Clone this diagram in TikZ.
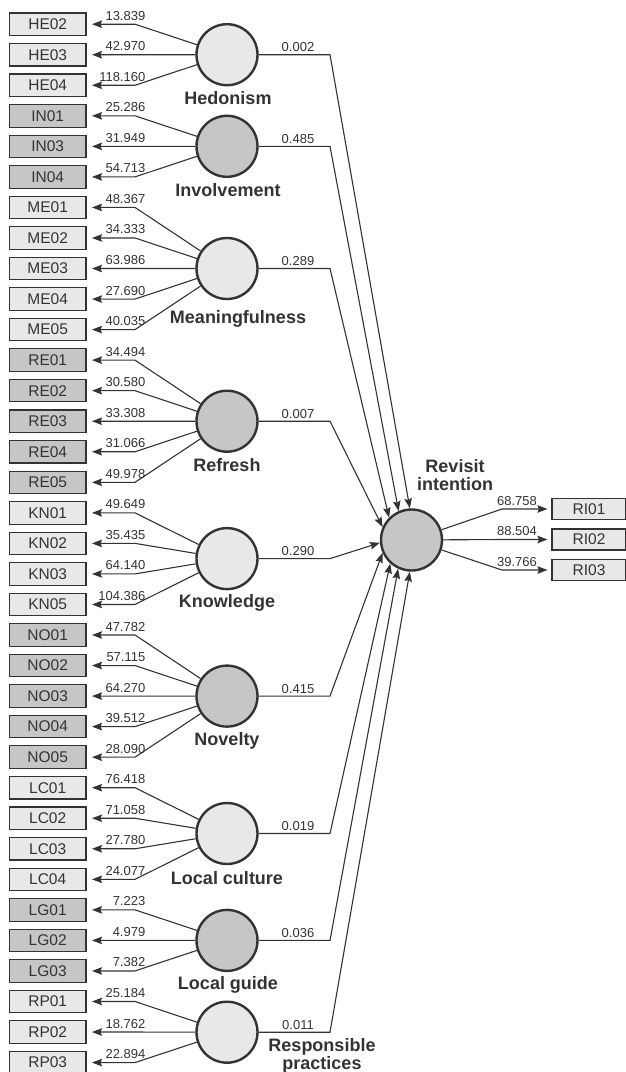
\documentclass[tikz,border=0pt]{standalone}
\usepackage{fontspec}
\setmainfont{Liberation Sans}
\usetikzlibrary{arrows.meta}
\definecolor{ink}{HTML}{333333}
\definecolor{lightfill}{HTML}{E8E8E8}
\definecolor{darkfill}{HTML}{C6C6C6}
\begin{document}
\begin{tikzpicture}[x=1pt,y=-1pt,
  ind/.style={draw=ink, line width=1.1pt, minimum width=76.5pt, minimum height=22.5pt, inner sep=0pt, font=\fontsize{15.5}{16}\selectfont, text=ink},
  indL/.style={ind, fill=lightfill},
  indD/.style={ind, fill=darkfill},
  lat/.style={circle, draw=ink, line width=2.4pt, minimum size=61pt, inner sep=0pt},
  latL/.style={lat, fill=lightfill},
  latD/.style={lat, fill=darkfill},
  conn/.style={draw=ink, line width=1.1pt, -{Stealth[length=10pt,width=7.5pt,inset=1.5pt]}},
  num/.style={font=\fontsize{13}{14}\selectfont, text=ink, inner sep=0pt},
  lbl/.style={font=\fontsize{18}{18}\selectfont\bfseries, text=ink, align=center, inner sep=0pt},
]
\useasboundingbox (0,0) rectangle (625,1072);

% indicator boxes
\foreach \t/\s [count=\i from 0] in {HE02/indL,HE03/indL,HE04/indL,IN01/indD,IN03/indD,IN04/indD,ME01/indL,ME02/indL,ME03/indL,ME04/indL,ME05/indL,RE01/indD,RE02/indD,RE03/indD,RE04/indD,RE05/indD,KN01/indL,KN02/indL,KN03/indL,KN05/indL,NO01/indD,NO02/indD,NO03/indD,NO04/indD,NO05/indD,LC01/indL,LC02/indL,LC03/indL,LC04/indL,LG01/indD,LG02/indD,LG03/indD,RP01/indL,RP02/indL,RP03/indL}
  \node[\s] (b\i) at (47.7,{24.2+30.54*\i}) {\t};

% latent variables
\node[latL] (he) at (227,54.7) {};
\node[latD] (in) at (227,146.3) {};
\node[latL] (me) at (227,268.5) {};
\node[latD] (re) at (227,421.2) {};
\node[latL] (kn) at (227,558.6) {};
\node[latD] (no) at (227,696.1) {};
\node[latL] (lc) at (227,833.5) {};
\node[latD] (lg) at (227,940.4) {};
\node[latL] (rp) at (227,1032.2) {};
\node[latD] (ri) at (411.5,540) {};

\node[lbl] (heL) at (228,98.5) {Hedonism};
\node[lbl] (inL) at (228,190) {Involvement};
\node[lbl] (meL) at (238,318.5) {Meaningfulness};
\node[lbl] (reL) at (227,465) {Refresh};
\node[lbl] (knL) at (227,603) {Knowledge};
\node[lbl] (noL) at (227,741) {Novelty};
\node[lbl] (lcL) at (227,878) {Local culture};
\node[lbl] (lgL) at (228,984.5) {Local guide};
\node[lbl] (rpL) at (322,1056) {Responsible\\practices};
\node[lbl] (riL) at (455,475) {Revisit\\intention};

% outer loadings
\foreach \b/\l/\v in {0/he/13.839,1/he/42.970,2/he/118.160,
  3/in/25.286,4/in/31.949,5/in/54.713,
  6/me/48.367,7/me/34.333,8/me/63.986,9/me/27.690,10/me/40.035,
  11/re/34.494,12/re/30.580,13/re/33.308,14/re/31.066,15/re/49.978,
  16/kn/49.649,17/kn/35.435,18/kn/64.140,19/kn/104.386,
  20/no/47.782,21/no/57.115,22/no/64.270,23/no/39.512,24/no/28.090,
  25/lc/76.418,26/lc/71.058,27/lc/27.780,28/lc/24.077,
  29/lg/7.223,30/lg/4.979,31/lg/7.382,
  32/rp/25.184,33/rp/18.762,34/rp/22.894}
{
  \draw[conn] (\l) -- (135,{24.2+30.54*\b}) -- ([xshift=5.5pt]b\b.east);
  \node[num, anchor=base east] (v\b) at (145.5,{24.2+30.54*\b-4}) {\v};
}

% structural paths
\foreach \l/\y/\a/\v in {he/54.7/93/0.002, in/146.3/114/0.485, me/268.5/135/0.289,
  re/421.2/156/0.007, kn/558.6/185/0.290, no/696.1/204/0.415,
  lc/833.5/228/0.019, lg/940.4/245/0.036, rp/1032.2/267/0.011}
{
  \draw[conn] (\l) -- (330,\y) -- (ri.\a);
  \node[num, anchor=base] (p\l) at (298,\y-3) {\v};
}

% revisit intention indicators
\foreach \t/\y/\v [count=\i] in {RI01/509/68.758, RI02/539.5/88.504, RI03/570/39.766}
{
  \node[indL, minimum height=21pt, minimum width=74pt] (r\i) at (589,\y) {\t};
  \draw[conn] (ri) -- (502,\y) -- ([xshift=-4pt]r\i.west);
  \node[num, anchor=base] (q\i) at (517,\y-4) {\v};
}
\end{tikzpicture}
\end{document}
